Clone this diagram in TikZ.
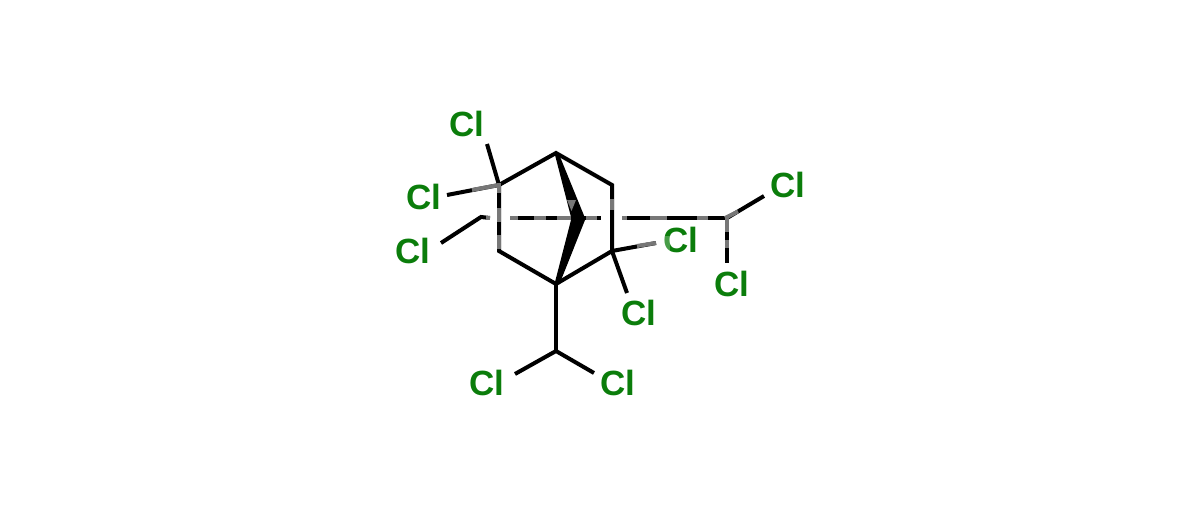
\documentclass[tikz,border=0pt]{standalone}
\usepackage{fontspec}
\setmainfont{Liberation Sans}
\definecolor{clgreen}{HTML}{0B7D0B}
\definecolor{fade}{HTML}{777777}
\tikzset{
  bond/.style={draw=black,line width=4pt,line cap=butt,line join=miter},
  fadebond/.style={draw=fade,line width=4pt,line cap=butt},
  wedge/.style={fill=black,draw=none},
  atomlabel/.style={text=clgreen,font=\fontsize{35}{35}\bfseries\selectfont,inner sep=0pt,anchor=center}
}
\begin{document}
\begin{tikzpicture}[x=1pt,y=-1pt]
\useasboundingbox (0,0) rectangle (1200,511);
\fill[white] (0,0) rectangle (1200,511);
% ring atoms
\coordinate (top) at (554.5,153);
\coordinate (topr) at (558.5,153);
\coordinate (ul) at (499,185);
\coordinate (ur) at (612,185);
\coordinate (ll) at (499,251);
\coordinate (lr) at (612,251);
\coordinate (bot) at (556,284);
\coordinate (botl) at (554.5,284);
\coordinate (botr) at (559.5,284);
\coordinate (br) at (585,218);
\coordinate (brl) at (571,217);
\coordinate (brb) at (571,220);
\coordinate (brr) at (585,220);
\coordinate (chb) at (556,351);
\coordinate (chr) at (727,218);
\coordinate (chl) at (481,217);
\coordinate (apex) at (556,153);
% free bond ends
\coordinate (e1) at (487,144);
\coordinate (e2) at (447,195);
\coordinate (e3) at (441,243);
\coordinate (e3b) at (490,218);
\coordinate (e4) at (656,243);
\coordinate (e5) at (627,293);
\coordinate (e6) at (764,196);
\coordinate (e7) at (727,263);
\coordinate (e8) at (515,374);
\coordinate (e9) at (594,373);
\coordinate (d1) at (510,218);
\coordinate (d2) at (601,218);
\coordinate (d3) at (622,218);
% labels
\node[atomlabel] (cl1) at (466.5,124) {Cl};
\node[atomlabel] (cl2) at (423.5,197) {Cl};
\node[atomlabel] (cl3) at (413,251) {Cl};
\node[atomlabel] (cl4) at (680.5,240) {Cl};
\node[atomlabel] (cl5) at (638.5,313) {Cl};
\node[atomlabel] (cl6) at (787.5,185) {Cl};
\node[atomlabel] (cl7) at (731.5,284) {Cl};
\node[atomlabel] (cl8) at (486.5,383) {Cl};
\node[atomlabel] (cl9) at (617.5,383) {Cl};
\fill[white,opacity=.25] (662,236) rectangle (670,254);
% ring
\draw[bond] (ul) -- (apex) -- (ur) -- (lr) -- (bot) -- (ll) -- cycle;
\fill[wedge] (top) -- (brl) -- (br) -- (topr) -- cycle;
\fill[wedge] (botl) -- (brb) -- (brr) -- (botr) -- cycle;
% substituents
\draw[bond] (ul) -- (e1);
\draw[bond] (ul) -- (e2);
\draw[bond] (lr) -- (e5);
\draw[bond] (lr) -- (e4);
\draw[bond] (bot) -- (chb);
\draw[bond] (chb) -- (e8);
\draw[bond] (chb) -- (e9);
\draw[bond] (chr) -- (e6);
\draw[bond] (chr) -- (e7);
\draw[bond] (d3) -- (chr);
\draw[bond] (d1) -- (d2);
\draw[bond] (e3) -- (chl) -- (e3b);
% faded stretches of the bonds
\draw[fadebond] (ul) -- (472,190);
\draw[fadebond] (499,183) -- (499,193);
\draw[fadebond] (499,208) -- (499,222);
\draw[fadebond] (499,235) -- (499,249);
\draw[fadebond] (510,218) -- (518,218);
\draw[fadebond] (534,218) -- (546,218);
\draw[fadebond] (557,218) -- (571,218);
\draw[fadebond] (586,218) -- (597,218);
\draw[fadebond] (486,218) -- (490,218);
\fill[fade] (567,200) -- (576,200) -- (571.5,211) -- cycle;
\draw[fadebond] (612,199) -- (612,210);
\draw[fadebond] (622,218) -- (627,218);
\draw[fadebond] (650,218) -- (667,218);
\draw[fadebond] (697,218) -- (708,218);
\draw[fadebond] (725,218) -- (738,211.5);
\draw[fadebond] (727,218) -- (727,232);
\draw[fadebond] (727,240) -- (727,248);
\draw[fadebond] (637,246) -- (e4);
\end{tikzpicture}
\end{document}
